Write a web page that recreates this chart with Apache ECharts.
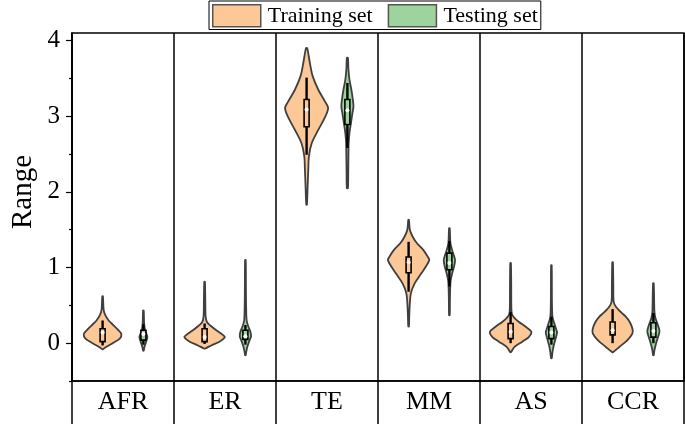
<!DOCTYPE html>
<html><head><meta charset="utf-8">
<script src="https://cdn.jsdelivr.net/npm/echarts@6/dist/echarts.min.js"></script>
<style>html,body{margin:0;padding:0;background:#fff}#c{width:685px;height:424px}</style>
</head><body><div id="c"></div>
<script>
const categories = ['AFR', 'ER', 'TE', 'MM', 'AS', 'CCR'];
const yTicks = [0, 1, 2, 3, 4];
const yMinorTicks = [-0.5, 0.5, 1.5, 2.5, 3.5];
const seriesNames = ['Training set', 'Testing set'];

// violin profiles: [value, relative half-width (density)]
const trainProfiles = [
  [[0.62,.015],[0.44,.05],[0.37,.13],[0.30,.29],[0.24,.51],[0.17,.76],[0.12,.90],[0.06,.82],[0.00,.48],[-0.05,.16],[-0.08,.015]],
  [[0.81,.015],[0.53,.035],[0.35,.05],[0.28,.11],[0.23,.29],[0.17,.56],[0.11,.87],[0.08,.97],[0.02,.71],[-0.03,.32],[-0.07,.03]],
  [[3.90,.03],[3.70,.16],[3.53,.29],[3.35,.56],[3.20,.87],[3.11,1.03],[2.98,.87],[2.82,.56],[2.64,.24],[2.47,.11],[2.29,.08],[2.07,.05],[1.83,.015]],
  [[1.63,.015],[1.50,.06],[1.41,.19],[1.32,.40],[1.23,.71],[1.14,.92],[1.10,.99],[1.01,.82],[0.92,.60],[0.79,.29],[0.66,.11],[0.53,.06],[0.35,.03],[0.22,.015]],
  [[1.06,.015],[0.75,.03],[0.48,.035],[0.39,.06],[0.33,.19],[0.28,.40],[0.22,.71],[0.15,.99],[0.08,.87],[0.02,.56],[-0.05,.19],[-0.12,.015]],
  [[1.07,.015],[0.75,.035],[0.55,.05],[0.48,.16],[0.41,.40],[0.35,.63],[0.28,.82],[0.19,.95],[0.13,.95],[0.04,.71],[-0.05,.32],[-0.12,.015]]
];
const testProfiles = [
  [[0.43,.015],[0.26,.035],[0.17,.08],[0.11,.16],[0.08,.19],[0.02,.13],[-0.05,.05],[-0.10,.015]],
  [[1.10,.015],[0.75,.025],[0.48,.035],[0.30,.06],[0.22,.14],[0.15,.24],[0.09,.27],[0.03,.19],[-0.04,.10],[-0.12,.035],[-0.16,.015]],
  [[3.77,.025],[3.62,.05],[3.48,.10],[3.35,.19],[3.22,.26],[3.13,.29],[3.04,.24],[2.91,.17],[2.78,.10],[2.64,.06],[2.47,.05],[2.25,.04],[2.05,.025]],
  [[1.52,.015],[1.32,.05],[1.23,.13],[1.17,.20],[1.10,.27],[1.01,.22],[0.92,.13],[0.83,.06],[0.70,.035],[0.57,.025],[0.37,.015]],
  [[1.03,.015],[0.57,.025],[0.35,.05],[0.26,.14],[0.19,.22],[0.14,.27],[0.06,.20],[-0.03,.11],[-0.12,.05],[-0.20,.015]],
  [[0.79,.015],[0.57,.035],[0.41,.05],[0.33,.10],[0.26,.19],[0.19,.27],[0.15,.29],[0.08,.22],[0.00,.13],[-0.09,.05],[-0.16,.015]]
];
// box stats: [lower whisker, Q1, median, Q3, upper whisker]
const trainBoxes = [
  [-0.03, 0.02, 0.14, 0.19, 0.30],
  [-0.01, 0.02, 0.08, 0.19, 0.26],
  [2.49, 2.86, 3.09, 3.22, 3.51],
  [0.68, 0.93, 1.07, 1.14, 1.34],
  [0.00, 0.06, 0.15, 0.26, 0.41],
  [0.00, 0.11, 0.17, 0.28, 0.45]
];
const testBoxes = [
  [-0.02, 0.04, 0.12, 0.17, 0.25],
  [-0.02, 0.05, 0.09, 0.17, 0.24],
  [2.58, 2.89, 3.08, 3.22, 3.44],
  [0.75, 0.97, 1.06, 1.19, 1.35],
  [-0.02, 0.06, 0.14, 0.22, 0.35],
  [0.00, 0.08, 0.16, 0.27, 0.40]
];

const TRAIN_FILL = '#FDC897';
const TEST_FILL = '#9DD49D';
const OUTLINE = '#3f3f3f';
const SERIF = 'Liberation Serif, Times New Roman, serif';

function violinRender(profiles, boxes, side, fill) {
  return function (params, api) {
    const i = api.value(0);
    const band = api.size([1, 0])[0];
    const cx = api.coord([i, 0])[0] + side * 0.2 * band;
    const k = 0.205 * band;
    const prof = profiles[i];
    const y = v => api.coord([i, v])[1];
    const pts = [];
    prof.forEach(p => pts.push([cx + p[1] * k, y(p[0])]));
    for (let j = prof.length - 1; j >= 0; j--) pts.push([cx - prof[j][1] * k, y(prof[j][0])]);
    const b = boxes[i];
    const bw = 5;
    return {
      type: 'group',
      children: [
        { type: 'polygon', shape: { points: pts, smooth: 0.3 }, style: { fill: fill, stroke: OUTLINE, lineWidth: 1.8 } },
        { type: 'line', shape: { x1: cx, y1: y(b[4]), x2: cx, y2: y(b[0]) }, style: { stroke: '#000', lineWidth: 2.4 } },
        { type: 'rect', shape: { x: cx - bw / 2, y: y(b[3]), width: bw, height: y(b[1]) - y(b[3]) }, style: { fill: fill, stroke: '#000', lineWidth: 1.6 } },
        { type: 'circle', shape: { cx: cx, cy: y(b[2]), r: 2 }, style: { fill: '#fff' } }
      ]
    };
  };
}

const chart = echarts.init(document.getElementById('c'), null, { renderer: 'canvas' });
chart.setOption({
  animation: false,
  backgroundColor: '#fff',
  grid: { left: 72, right: 1, top: 33, bottom: 43, show: true, borderColor: '#000', borderWidth: 1.5, backgroundColor: 'transparent' },
  legend: {
    left: 209, top: 1,
    data: [
      { name: seriesNames[0], itemStyle: { color: TRAIN_FILL, borderColor: '#555', borderWidth: 1.5 } },
      { name: seriesNames[1], itemStyle: { color: TEST_FILL, borderColor: '#555', borderWidth: 1.5 } }
    ],
    icon: 'rect', itemWidth: 48, itemHeight: 22, itemGap: 15,
    padding: [3, 3, 2, 3],
    borderColor: '#000', borderWidth: 1, backgroundColor: '#fff',
    textStyle: { fontFamily: SERIF, fontSize: 22, color: '#000', padding: [0, 0, 0, 2] }
  },
  xAxis: {
    type: 'category', data: categories, boundaryGap: true,
    axisLine: { onZero: false, lineStyle: { color: '#000', width: 1.5 } },
    axisTick: { show: true, length: 43, lineStyle: { color: '#000', width: 1.5 } },
    splitLine: { show: true, lineStyle: { color: '#000', width: 1.5 } },
    axisLabel: { fontFamily: SERIF, fontSize: 26, color: '#000', margin: 8 }
  },
  yAxis: [
    {
      type: 'value', min: -0.5, max: 4.1, interval: 0.5,
      axisLine: { show: true, lineStyle: { color: '#000', width: 1.5 } },
      axisTick: { show: true, length: 3, customValues: yMinorTicks, lineStyle: { color: '#000', width: 1.2 } },
      splitLine: { show: false },
      axisLabel: {
        fontFamily: SERIF, fontSize: 25, color: '#000', margin: 12,
        customValues: yTicks
      }
    },
    {
      type: 'value', min: -0.5, max: 4.1, interval: 0.5, position: 'left',
      axisLine: { show: false },
      axisTick: { show: true, length: 6, customValues: yTicks, lineStyle: { color: '#000', width: 1.2 } },
      splitLine: { show: false },
      axisLabel: { show: false }
    }
  ],
  graphic: [{
    type: 'text', x: 23, y: 192, rotation: Math.PI / 2,
    style: { text: 'Range', font: '29px ' + SERIF, fill: '#000', textAlign: 'center', textVerticalAlign: 'middle' }
  }],
  series: [
    {
      name: seriesNames[0], type: 'custom', itemStyle: { color: TRAIN_FILL },
      renderItem: violinRender(trainProfiles, trainBoxes, -1, TRAIN_FILL),
      encode: { x: 0, y: 1 },
      data: categories.map((c, i) => [i, trainBoxes[i][2]])
    },
    {
      name: seriesNames[1], type: 'custom', itemStyle: { color: TEST_FILL },
      renderItem: violinRender(testProfiles, testBoxes, 1, TEST_FILL),
      encode: { x: 0, y: 1 },
      data: categories.map((c, i) => [i, testBoxes[i][2]])
    }
  ]
});
</script>
</body></html>
